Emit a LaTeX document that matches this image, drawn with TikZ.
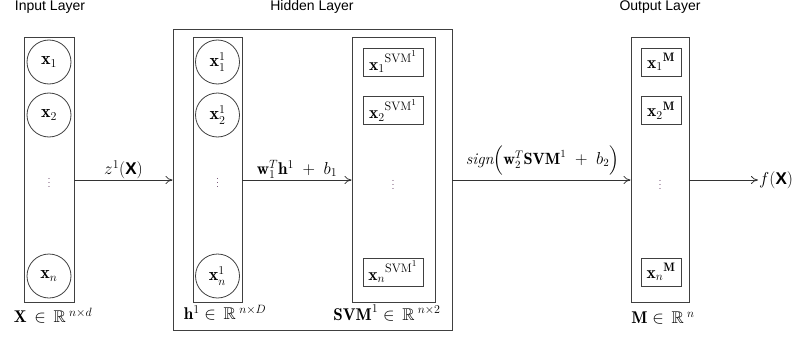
\documentclass[tikz,border=0pt]{standalone}
\usepackage{amsmath}
\usepackage{amssymb}
\usepackage{fontspec}
\setsansfont{Liberation Sans}
\usetikzlibrary{arrows.meta}
\definecolor{dotc}{RGB}{90,50,90}
\begin{document}
\begin{tikzpicture}[x=1pt,y=-1pt,
 box/.style={draw=black!75, line width=0.9pt, rectangle, inner sep=0pt},
 unit/.style={circle, draw=black!75, line width=0.8pt, minimum size=44pt, inner sep=0pt, font=\fontsize{18}{20}\selectfont},
 sbox/.style={rectangle, draw=black!75, line width=0.8pt, minimum height=28pt, inner sep=0pt, font=\fontsize{17.5}{19}\selectfont},
 title/.style={font=\sffamily\fontsize{14}{16}\selectfont, inner sep=0pt},
 lab/.style={font=\fontsize{17}{19}\selectfont, inner sep=0pt},
 alab/.style={font=\fontsize{17}{19}\selectfont, inner sep=1pt, above},
 dots/.style={text=dotc, font=\fontsize{11}{12}\selectfont, inner sep=0pt},
 arr/.style={-{To[length=7pt,width=8pt]}, line width=0.8pt, draw=black!80}]
\useasboundingbox (0,0) rectangle (794,337);
% boxes
\node[box, minimum width=50pt, minimum height=265pt] (in) at (49,169.5) {};
\node[box, minimum width=279pt, minimum height=301pt] (hid) at (312.5,179.5) {};
\node[box, minimum width=49pt, minimum height=265pt] (hb) at (217.5,169.5) {};
\node[box, minimum width=83pt, minimum height=265pt] (svm) at (393.5,169.5) {};
\node[box, minimum width=58pt, minimum height=265pt] (out) at (660,169.5) {};
\coordinate (mid) at (0,180);
% titles
\node[title] (t1) at (50,7) {Input Layer};
\node[title] (t2) at (312,7) {Hidden Layer};
\node[title] (t3) at (660,7) {Output Layer};
% input units
\node[unit] (x1) at (49,62) {$\mathbf{x}_1$};
\node[unit] (x2) at (49,115) {$\mathbf{x}_2$};
\node[dots] (xd) at (49,180) {$\vdots$};
\node[unit] (xn) at (49,276) {$\mathbf{x}_n$};
% hidden units
\node[unit] (h1) at (217.5,62) {$\mathbf{x}_1^1$};
\node[unit] (h2) at (217.5,115) {$\mathbf{x}_2^1$};
\node[dots] (hd) at (217.5,180) {$\vdots$};
\node[unit] (hn) at (217.5,276) {$\mathbf{x}_n^1$};
% svm units
\node[sbox, minimum width=60pt] (s1) at (393,62) {${\mathbf{x}_1}^{\raisebox{1.5pt}{$\scriptstyle\mathrm{SVM}^1$}}$};
\node[sbox, minimum width=60pt] (s2) at (393,110.5) {${\mathbf{x}_2}^{\raisebox{1.5pt}{$\scriptstyle\mathrm{SVM}^1$}}$};
\node[dots] (sd) at (393,182) {$\vdots$};
\node[sbox, minimum width=60pt] (sn) at (393,272) {${\mathbf{x}_n}^{\raisebox{1.5pt}{$\scriptstyle\mathrm{SVM}^1$}}$};
% output units
\node[sbox, minimum width=40pt] (m1) at (661,62) {${\mathbf{x}_1}^{\mathbf{M}}$};
\node[sbox, minimum width=40pt] (m2) at (661,110.5) {${\mathbf{x}_2}^{\mathbf{M}}$};
\node[dots] (md) at (660,182) {$\vdots$};
\node[sbox, minimum width=40pt] (mn) at (661,272) {${\mathbf{x}_n}^{\mathbf{M}}$};
% bottom labels
\node[lab] (lx) at (53,316) {$\mathbf{X}\,\in\,\mathbb{R}^{\;n\times d}$};
\node[lab] (lh) at (225,313) {$\mathbf{h}^1\in\,\mathbb{R}^{\;n\times D}$};
\node[lab] (ls) at (387,313) {$\mathbf{SVM}^1\in\,\mathbb{R}^{\;n\times 2}$};
\node[lab] (lm) at (663,318) {$\mathbf{M}\in\,\mathbb{R}^{\;n}$};
% output
\node[font=\fontsize{17}{19}\selectfont, inner sep=1pt, anchor=west] (fx) at (758,180) {$f(\textsf{\textbf{X}})$};
% arrows
\draw[arr] (in.east |- mid) -- node[alab] {$z^1(\textsf{\textbf{X}})$} (hid.west |- mid);
\draw[arr] (hb.east |- mid) -- node[alab] {$\mathbf{w}_1^T\mathbf{h}^1\;+\;b_1$} (svm.west |- mid);
\draw[arr] (hid.east |- mid) -- node[alab, yshift=3pt, font=\fontsize{16.3}{18}\selectfont, xshift=1pt] {$\mathit{sign}\Big(\mathbf{w}_2^T\mathbf{SVM}^1\;+\;b_2\Big)$} (out.west |- mid);
\draw[arr] (out.east |- mid) -- (fx.west);
\end{tikzpicture}
\end{document}
